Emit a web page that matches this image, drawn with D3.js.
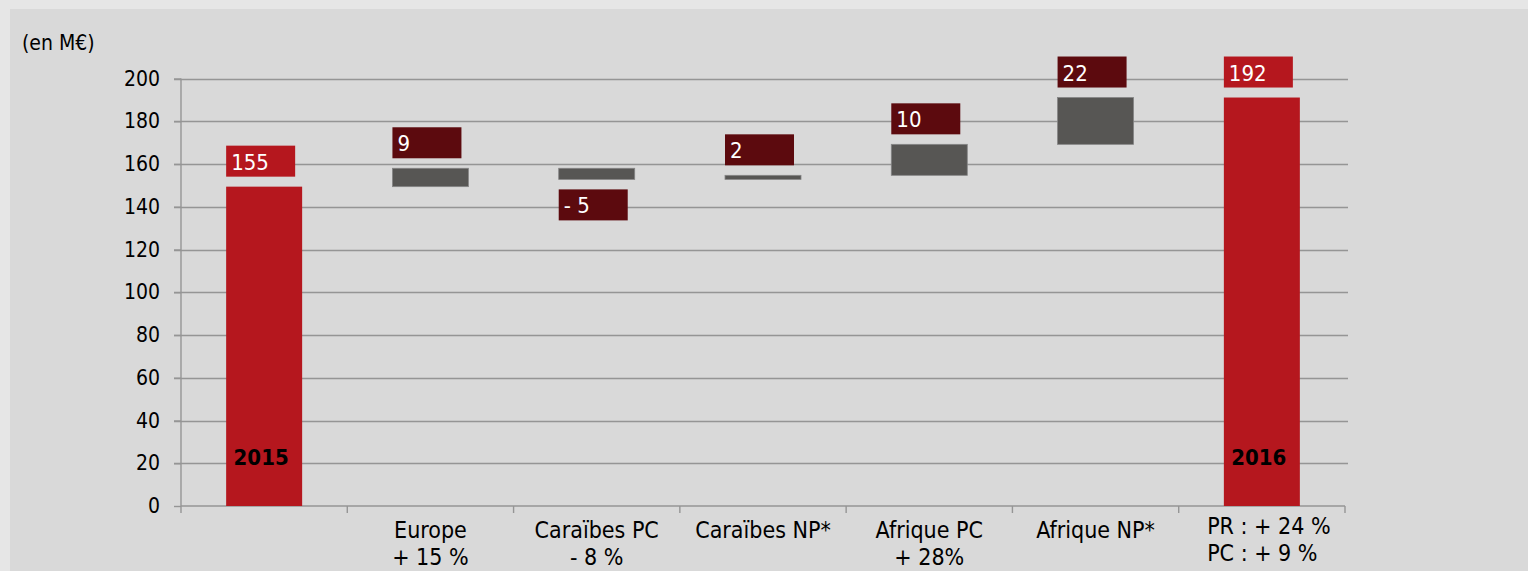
<!DOCTYPE html>
<html>
<head>
<meta charset="utf-8">
<script src="https://cdn.jsdelivr.net/npm/d3@7/dist/d3.min.js"></script>
<style>
  html, body { margin: 0; padding: 0; background: #e6e6e6; }
  svg { display: block; }
  text { font-family: "DejaVu Sans Condensed", "DejaVu Sans", sans-serif; font-stretch: condensed; }
</style>
</head>
<body>
<svg id="chart" width="1528" height="571"></svg>
<script>
// ---- data ----
const categories = ["2015", "Europe", "Caraïbes PC", "Caraïbes NP*", "Afrique PC", "Afrique NP*", "2016"];
const categoryLabels = [
  [],
  ["Europe", "+ 15 %"],
  ["Caraïbes PC", "- 8 %"],
  ["Caraïbes NP*"],
  ["Afrique PC", "+ 28%"],
  ["Afrique NP*"],
  ["PR : + 24 %", "PC : + 9 %"]
];
const barLow  = [0,     149.4, 152.8, 152.8, 154.7, 169.2, 0];
const barHigh = [149.4, 158.0, 158.0, 154.7, 169.2, 191.1, 191.1];
const barKind = ["total", "delta", "delta", "delta", "delta", "delta", "total"];
const valueLabels = ["155", "9", "- 5", "2", "10", "22", "192"];
const labelSign = [1, 1, -1, 1, 1, 1, 1];
const yearLabels = ["2015", "", "", "", "", "", "2016"];
const yTicks = [0, 20, 40, 60, 80, 100, 120, 140, 160, 180, 200];
const unitLabel = "(en M€)";

// ---- layout ----
const svg = d3.select("#chart");
svg.append("rect").attr("x", 10).attr("y", 9).attr("width", 1518).attr("height", 562).attr("fill", "#d9d9d9");

const x = d3.scaleBand().domain(categories).range([181, 1345]).padding(0);
const y = d3.scaleLinear().domain([0, 200]).range([506, 78.5]);
const barW = x.bandwidth() * 0.457;

// gridlines
svg.append("g").selectAll("line").data(yTicks.filter(d => d > 0)).join("line")
  .attr("x1", 174).attr("x2", 1348)
  .attr("y1", d => Math.round(y(d)) + 0.5).attr("y2", d => Math.round(y(d)) + 0.5)
  .attr("stroke", "#959595").attr("stroke-width", 1.4);

// y axis
const yAxis = svg.append("g").attr("transform", "translate(181,0)")
  .call(d3.axisLeft(y).tickValues(yTicks).tickSize(7).tickPadding(14));
yAxis.select(".domain").attr("stroke", "#959595").attr("stroke-width", 1.4).attr("d", `M0,${y(0)}V${y(200)}`);
yAxis.selectAll(".tick line").attr("stroke", "#959595").attr("stroke-width", 1.4);
yAxis.selectAll(".tick text").attr("font-size", 21).attr("fill", "#000")
  .attr("font-family", '"DejaVu Sans Condensed", "DejaVu Sans", sans-serif');

// x axis baseline + boundary ticks
const xg = svg.append("g");
xg.append("line").attr("x1", 181).attr("x2", 1345).attr("y1", y(0)).attr("y2", y(0))
  .attr("stroke", "#959595").attr("stroke-width", 1.4);
const bounds = categories.map(c => x(c)).concat([x(categories[categories.length - 1]) + x.bandwidth()]);
xg.selectAll("line.b").data(bounds).join("line").attr("class", "b")
  .attr("x1", d => d).attr("x2", d => d).attr("y1", y(0)).attr("y2", y(0) + 7)
  .attr("stroke", "#959595").attr("stroke-width", 1.4);

// bars
const idx = d3.range(categories.length);
const barLeft = i => x(categories[i]) + (x.bandwidth() - barW) / 2;
svg.append("g").selectAll("rect").data(idx).join("rect")
  .attr("x", barLeft)
  .attr("y", i => y(barHigh[i]))
  .attr("width", barW)
  .attr("height", i => Math.max(y(barLow[i]) - y(barHigh[i]), 1))
  .attr("fill", i => barKind[i] === "total" ? "#b5171e" : "#575654")
  .attr("stroke", i => barKind[i] === "total" ? "none" : "#858585")
  .attr("stroke-width", 0.8);

// year labels in totals
svg.append("g").selectAll("text").data(idx.filter(i => yearLabels[i])).join("text")
  .attr("x", i => barLeft(i) + barW / 2 - 3)
  .attr("y", 465)
  .attr("text-anchor", "middle")
  .attr("font-size", 22).attr("font-weight", "bold").attr("fill", "#000")
  .text(i => yearLabels[i]);

// value label boxes
const boxW = 69, boxH = 31, gap = 10;
const lg = svg.append("g").selectAll("g").data(idx).join("g")
  .attr("transform", i => {
    const top = labelSign[i] > 0 ? y(barHigh[i]) - gap - boxH : y(barLow[i]) + gap;
    return `translate(${barLeft(i)},${top})`;
  });
lg.append("rect").attr("width", boxW).attr("height", boxH)
  .attr("fill", i => barKind[i] === "total" ? "#b5171e" : "#5c0a0e");
lg.append("text").attr("x", 5).attr("y", 24).attr("font-size", 22).attr("fill", "#fff")
  .text(i => valueLabels[i]);

// category labels
const cg = svg.append("g");
idx.forEach(i => {
  const lines = categoryLabels[i];
  if (!lines.length) return;
  const cx = x(categories[i]) + x.bandwidth() / 2;
  const isTotal = barKind[i] === "total";
  const base = isTotal ? 534 : 538;
  const step = 27;
  const t = cg.append("g");
  const texts = lines.map((l, k) => t.append("text")
    .attr("x", cx).attr("y", base + k * step)
    .attr("text-anchor", isTotal ? "start" : "middle")
    .attr("font-size", 23).attr("fill", "#000").text(l));
  if (isTotal) {
    const w = d3.max(texts, s => s.node().getComputedTextLength());
    texts.forEach(s => s.attr("x", cx + 7 - w / 2));
  }
});

// unit label
svg.append("text").attr("x", 22).attr("y", 50).attr("font-size", 21).attr("fill", "#000").text(unitLabel);
</script>
</body>
</html>
